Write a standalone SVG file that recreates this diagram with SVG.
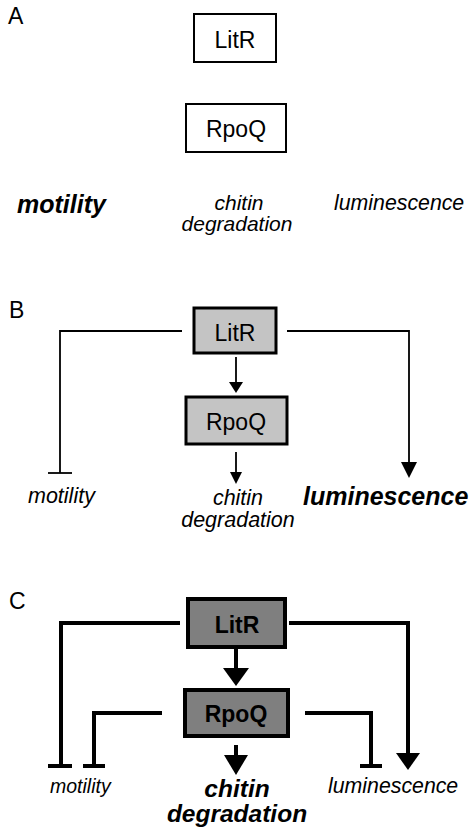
<svg xmlns="http://www.w3.org/2000/svg" width="475" height="831" viewBox="0 0 475 831">
<style>
text{font-family:"Liberation Sans",Arial,sans-serif;fill:#000}
.lbl{font-size:23px}
.box{font-size:23px;text-anchor:middle}
.c{text-anchor:middle}
.i{font-style:italic}
.b{font-weight:bold}
.boxA{fill:#fff;stroke:#000;stroke-width:2}
.boxB{fill:#c4c4c4;stroke:#000;stroke-width:3}
.boxC{fill:#7f7f7f;stroke:#000;stroke-width:4}
.lnB{fill:none;stroke:#000;stroke-width:1.8}
.lnC{fill:none;stroke:#000;stroke-width:4}
.hd{fill:#000;stroke:none}
</style>
<rect width="475" height="831" fill="#fff"/>
<!-- Panel A -->
<text class="lbl" x="8" y="24">A</text>
<g id="A-LitR"><rect class="boxA" x="194" y="14" width="82" height="48"/><text class="box" x="235" y="48">LitR</text></g>
<g id="A-RpoQ"><rect class="boxA" x="186" y="104" width="100" height="48"/><text class="box" x="236" y="137">RpoQ</text></g>
<g id="A-motility"><text class="i b" x="17" y="213" font-size="25">motility</text></g>
<g id="A-chitin"><text class="c i" font-size="21"><tspan x="239" y="210">chitin</tspan><tspan x="237" y="231">degradation</tspan></text></g>
<g id="A-luminescence"><text class="i" x="334" y="210" font-size="21.3">luminescence</text></g>
<!-- Panel B -->
<text class="lbl" x="9" y="318">B</text>
<g id="B-LitR"><rect class="boxB" x="194" y="308" width="82" height="45"/><text class="box" x="235" y="341">LitR</text></g>
<g id="B-RpoQ"><rect class="boxB" x="186" y="397" width="101" height="47"/><text class="box" x="236" y="430">RpoQ</text></g>
<g id="B-motility"><text class="i" x="28" y="503" font-size="21.5">motility</text></g>
<g id="B-chitin"><text class="c i" font-size="21.5"><tspan x="238" y="505">chitin</tspan><tspan x="238" y="527">degradation</tspan></text></g>
<g id="B-luminescence"><text class="i b" x="303" y="505" font-size="25">luminescence</text></g>
<g id="B-connectors">
<path class="lnB" d="M182,331 H60 V473"/>
<line class="lnB" x1="48" y1="473" x2="72" y2="473"/>
<path class="lnB" d="M287,331 H409 V463"/>
<polygon class="hd" points="401,462 417,462 409,478"/>
<line class="lnB" x1="236" y1="357" x2="236" y2="383"/>
<polygon class="hd" points="229,382 243,382 236,393"/>
<line class="lnB" x1="236" y1="452" x2="236" y2="473"/>
<polygon class="hd" points="230,472 242,472 236,484"/>
</g>
<!-- Panel C -->
<text class="lbl" x="9" y="609">C</text>
<g id="C-LitR"><rect class="boxC" x="188" y="599" width="97" height="48"/><text class="box b" x="237" y="633">LitR</text></g>
<g id="C-RpoQ"><rect class="boxC" x="185" y="690" width="103" height="46"/><text class="box b" x="236" y="722" font-size="24">RpoQ</text></g>
<g id="C-motility"><text class="i" x="50" y="793" font-size="19.5">motility</text></g>
<g id="C-chitin"><text class="c i b" font-size="24.5"><tspan x="237" y="797">chitin</tspan><tspan x="237" y="822">degradation</tspan></text></g>
<g id="C-luminescence"><text class="i" x="328" y="793" font-size="21.3">luminescence</text></g>
<g id="C-connectors">
<path class="lnC" d="M180,623 H61 V766"/>
<line class="lnC" x1="48" y1="766" x2="72" y2="766"/>
<path class="lnC" d="M289,623 H408 V754"/>
<polygon class="hd" points="396,753 420,753 408,770"/>
<line class="lnC" x1="236" y1="649" x2="236" y2="669"/>
<polygon class="hd" points="223,668 249,668 236,686"/>
<line class="lnC" x1="236" y1="745" x2="236" y2="756"/>
<polygon class="hd" points="224,755 248,755 236,775"/>
<path class="lnC" d="M162,713 H94 V766"/>
<line class="lnC" x1="83" y1="766" x2="105" y2="766"/>
<path class="lnC" d="M305,713 H371 V766"/>
<line class="lnC" x1="360" y1="766" x2="382" y2="766"/>
</g>
</svg>
